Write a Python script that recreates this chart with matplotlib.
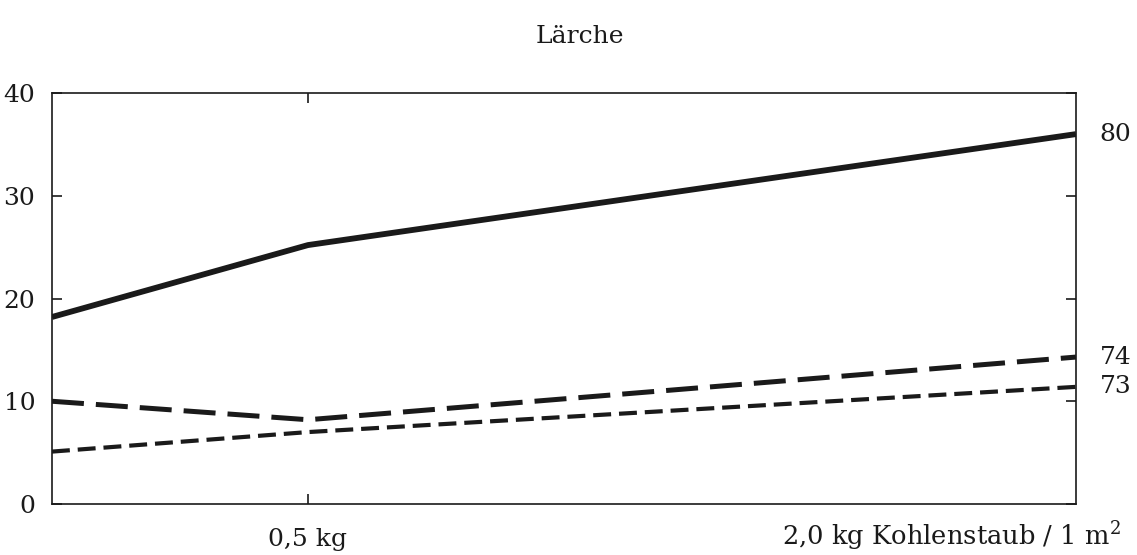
import matplotlib.pyplot as plt

# Daten
kohlenstaub = [0, 0.5, 2.0]
reihe_80 = [18.2, 25.2, 36.0]
reihe_74 = [10.0, 8.2, 14.3]
reihe_73 = [5.1, 7.0, 11.4]
end_labels = ['80', '74', '73']

plt.rcParams['font.family'] = ['DejaVu Serif']
plt.rcParams['mathtext.fontset'] = 'dejavuserif'

fig = plt.figure(figsize=(11.37, 5.55), dpi=100)
ax = fig.add_axes([0.0457, 0.0919, 0.9006, 0.7405])

ink = '#1a1a1a'
ax.plot(kohlenstaub, reihe_80, color=ink, lw=4.2, solid_capstyle='butt')
ax.plot(kohlenstaub, reihe_74, color=ink, lw=3.6, dashes=(6.4, 2.4))
ax.plot(kohlenstaub, reihe_73, color=ink, lw=3.0, dashes=(4.3, 1.9))

# Beschriftung am rechten Rand
for ys, lab in zip([reihe_80, reihe_74, reihe_73], end_labels):
    ax.annotate(lab, xy=(kohlenstaub[-1], ys[-1]), xytext=(17, 0),
                textcoords='offset points', va='center', ha='left', fontsize=18, color=ink)

ax.set_xlim(0, 2.0)
ax.set_ylim(0, 40)
ax.set_yticks([0, 10, 20, 30, 40])
ax.set_xticks([0.5])
ax.set_xticklabels(['0,5 kg'])
ax.annotate('2,0 kg Kohlenstaub / 1 m$^2$', xy=(1.0, 0), xycoords='axes fraction',
            xytext=(32, -30), textcoords='offset points', ha='right', va='baseline',
            fontsize=18.5, color=ink)

ax.tick_params(axis='both', direction='in', length=7, width=1.2, labelsize=18,
               colors=ink, right=True, top=True)
ax.tick_params(axis='y', pad=12)
ax.tick_params(axis='x', pad=17)

for s in ax.spines.values():
    s.set_linewidth(1.2)
    s.set_color(ink)

fig.text(0.51, 0.935, 'Lärche', ha='center', va='center', fontsize=18, color=ink)

fig.savefig('out.png', dpi=100)
